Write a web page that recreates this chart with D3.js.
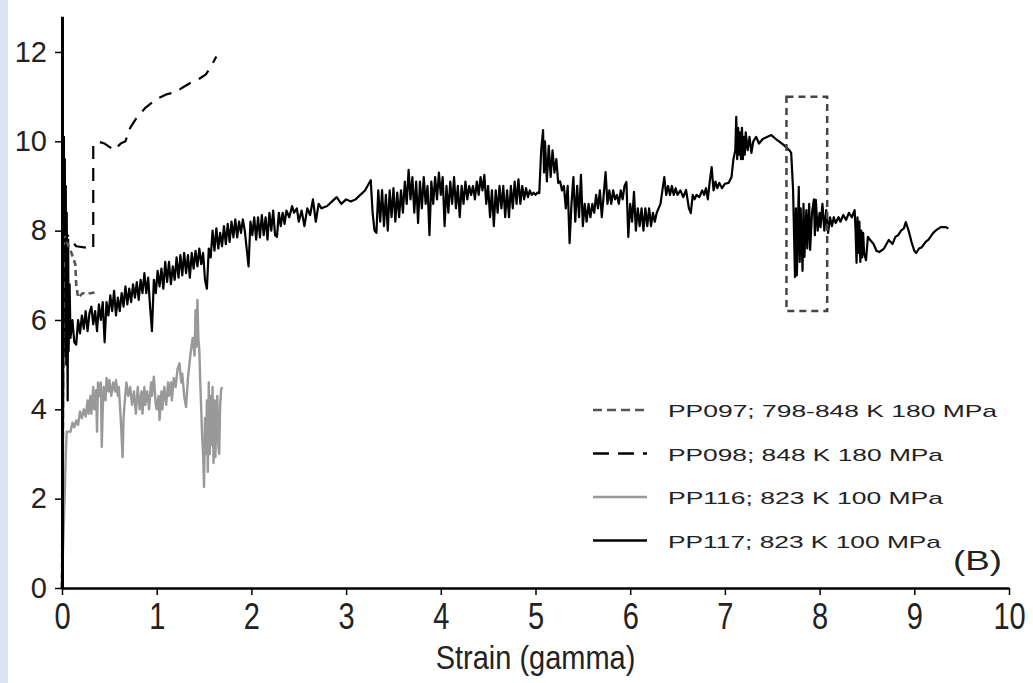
<!DOCTYPE html>
<html>
<head>
<meta charset="utf-8">
<script src="https://cdn.jsdelivr.net/npm/d3@7"></script>
<style>
  body { margin: 0; background: #fff; }
  svg { display: block; font-family: "Liberation Sans", Arial, sans-serif; }
</style>
</head>
<body>
<svg width="1033" height="683"></svg>
<script>
// values (strain gamma, stress)
const pp097 = [[0,0],[0.02,7.9],[0.1,7.5],[0.14,7.25],[0.15,6.8],[0.17,6.5],[0.22,6.6],[0.3,6.6],[0.35,6.62]];

const pp098 = [[0,0],[0.02,8.0],[0.15,7.65],[0.33,7.6],[0.33,9.9],[0.37,10.0],[0.45,9.95],[0.55,9.8],[0.62,9.95],
  [0.67,10.0],[0.72,10.3],[0.78,10.5],[0.88,10.75],[1.0,10.95],[1.1,11.05],[1.2,11.1],[1.27,11.2],[1.35,11.3],
  [1.45,11.4],[1.52,11.5],[1.58,11.7],[1.63,11.9]];

const pp116 = [[0,0],[0.01,0.8],[0.02,1.5],[0.03,2.2],[0.04,3.0],[0.05,3.5],[0.09,3.5],[0.11,3.7],[0.13,3.6],
  [0.15,3.75],[0.17,3.65],[0.19,3.95],[0.21,3.8],[0.23,4.0],[0.25,3.84],[0.27,4.2],[0.28,3.9],[0.3,4.3],[0.31,3.9],
  [0.33,4.5],[0.34,4.0],[0.36,4.43],[0.37,3.5],[0.38,4.6],[0.4,4.3],[0.41,4.6],[0.42,3.16],[0.43,4.0],[0.44,4.5],
  [0.46,4.2],[0.47,4.7],[0.49,4.4],[0.5,4.66],[0.52,4.3],[0.54,4.6],[0.56,4.4],[0.57,4.65],[0.59,4.3],[0.6,4.5],
  [0.62,3.8],[0.64,2.93],[0.65,3.8],[0.66,4.1],[0.68,4.6],[0.7,4.3],[0.72,4.5],[0.74,4.1],[0.76,4.4],[0.78,3.9],
  [0.8,4.5],[0.82,4.0],[0.84,4.4],[0.85,3.9],[0.87,4.5],[0.88,4.1],[0.9,4.4],[0.92,4.0],[0.94,4.6],[0.95,4.3],
  [0.97,4.73],[0.99,4.1],[1.0,4.0],[1.02,4.3],[1.03,3.76],[1.05,4.4],[1.06,4.0],[1.08,4.5],[1.1,4.1],[1.12,4.6],
  [1.13,4.3],[1.15,4.6],[1.16,4.2],[1.18,4.7],[1.2,4.5],[1.22,4.9],[1.24,5.03],[1.26,4.6],[1.27,4.8],[1.29,4.3],
  [1.31,4.05],[1.33,4.7],[1.34,4.9],[1.36,5.3],[1.38,5.6],[1.4,5.2],[1.41,6.22],[1.42,5.4],[1.43,6.45],[1.44,5.6],
  [1.45,5.33],[1.46,4.6],[1.47,4.0],[1.48,3.4],[1.49,3.0],[1.5,2.26],[1.51,3.8],[1.52,3.0],[1.53,4.2],[1.54,2.6],
  [1.55,4.6],[1.56,3.0],[1.57,4.3],[1.58,3.2],[1.59,4.5],[1.6,2.8],[1.61,4.2],[1.62,2.93],[1.63,4.0],[1.64,4.3],
  [1.65,3.2],[1.66,3.0],[1.67,4.1],[1.68,4.43],[1.69,4.5]];

const pp117 = [[0,0],[0.01,3.0],[0.015,7.5],[0.02,10.1],[0.025,6.0],[0.03,9.6],[0.035,5.2],[0.04,9.0],[0.045,5.0],
  [0.05,8.4],[0.06,4.2],[0.065,7.8],[0.07,5.3],[0.08,6.8],[0.09,5.6],[0.11,6.0],[0.13,5.5],[0.15,5.45],
  [0.17,6.0],[0.19,5.7],[0.21,6.1],[0.23,5.8],[0.25,6.2],[0.27,5.75],[0.29,6.15],[0.31,6.3],[0.33,5.9],[0.35,6.2],
  [0.37,5.75],[0.39,6.35],[0.41,6.0],[0.43,6.4],[0.45,5.5],[0.47,6.4],[0.49,6.1],[0.51,6.55],[0.53,6.2],[0.55,6.65],
  [0.57,6.1],[0.59,6.5],[0.61,6.2],[0.63,6.6],[0.65,6.3],[0.67,6.75],[0.69,6.35],[0.71,6.7],[0.73,6.4],[0.75,6.8],
  [0.77,6.5],[0.79,6.85],[0.81,6.45],[0.83,6.9],[0.85,6.6],[0.87,7.05],[0.89,6.6],[0.91,6.95],[0.93,6.3],[0.95,5.75],
  [0.97,6.9],[0.99,6.6],[1.01,7.1],[1.03,6.75],[1.05,7.15],[1.07,6.7],[1.09,7.3],[1.11,6.85],[1.13,7.3],[1.15,6.8],
  [1.17,7.2],[1.19,6.9],[1.21,7.4],[1.23,6.95],[1.25,7.45],[1.27,7.0],[1.29,7.5],[1.31,7.05],[1.33,7.45],[1.35,6.95],
  [1.37,7.5],[1.39,7.15],[1.41,7.55],[1.43,7.2],[1.45,7.6],[1.47,7.25],[1.49,7.5],[1.51,6.9],[1.53,6.7],[1.55,7.6],
  [1.57,7.4],[1.59,8.0],[1.61,7.55],[1.63,8.05],[1.65,7.6],[1.67,7.95],[1.69,7.65],[1.71,8.1],[1.73,7.7],[1.75,8.15],
  [1.77,7.75],[1.79,8.2],[1.81,7.85],[1.83,8.25],[1.85,7.85],[1.87,8.2],[1.89,7.95],[1.91,8.25],[1.93,8.0],[1.95,7.6],
  [1.97,7.2],[1.99,8.2],[2.01,7.9],[2.03,8.3],[2.05,7.8],[2.07,8.3],[2.09,7.85],[2.11,8.35],[2.13,7.9],[2.15,8.3],
  [2.17,7.8],[2.19,8.4],[2.21,8.0],[2.23,8.45],[2.25,7.9],[2.27,7.86],[2.29,8.4],[2.31,8.1],[2.33,8.4],[2.35,8.15],
  [2.37,8.45],[2.4,8.3],[2.43,8.55],[2.45,8.4],[2.48,8.5],[2.5,8.2],[2.53,8.45],[2.56,8.1],[2.59,8.5],[2.62,8.35],
  [2.65,8.7],[2.68,8.2],[2.71,8.6],[2.74,8.5],[2.8,8.55],[2.85,8.65],[2.9,8.75],[2.95,8.6],[3.0,8.7],[3.05,8.65],
  [3.1,8.7],[3.15,8.8],[3.2,8.9],[3.26,9.13],
  [3.28,8.4],[3.3,8.0],[3.32,7.95],[3.34,8.9],[3.36,8.2],[3.38,8.91],[3.4,8.1],[3.42,8.8],[3.44,8.0],[3.46,8.9],
  [3.48,8.3],[3.5,8.95],[3.52,8.2],[3.54,8.85],[3.56,8.3],[3.58,8.9],[3.6,8.4],[3.62,9.1],[3.64,8.6],[3.66,9.36],
  [3.68,8.7],[3.7,9.2],[3.72,8.4],[3.74,9.1],[3.76,8.17],[3.78,9.1],[3.8,8.5],[3.82,9.2],[3.84,8.6],[3.86,9.0],
  [3.88,7.9],[3.9,9.1],[3.92,8.6],[3.94,9.2],[3.96,8.7],[3.98,9.3],[4.0,8.8],[4.02,9.2],[4.04,8.1],[4.06,9.0],
  [4.08,8.4],[4.1,9.1],[4.12,8.6],[4.14,9.2],[4.16,8.5],[4.18,9.0],[4.2,8.3],[4.22,9.0],[4.24,8.6],[4.26,9.1],
  [4.28,8.7],[4.3,9.0],[4.32,8.8],[4.34,9.0],[4.36,8.7],[4.38,9.1],[4.4,8.8],[4.42,9.2],[4.44,8.9],[4.46,9.25],
  [4.48,8.6],[4.5,9.0],[4.52,8.3],[4.54,8.9],[4.56,8.1],[4.58,8.9],[4.6,8.4],[4.62,9.0],[4.64,8.5],[4.66,9.0],
  [4.68,8.3],[4.7,8.9],[4.72,8.3],[4.74,9.0],[4.76,8.5],[4.78,9.1],[4.8,8.6],[4.82,9.15],[4.84,8.6],[4.86,9.0],
  [4.88,8.7],[4.9,8.95],[4.92,8.75],[4.94,8.9],[4.96,8.8],[4.98,8.85],[5.0,8.8],[5.02,8.85],[5.04,8.84],
  [5.06,9.8],[5.08,10.25],[5.09,9.3],[5.1,10.0],[5.12,9.1],[5.14,9.9],[5.16,9.2],[5.18,9.8],[5.2,9.3],[5.22,9.6],
  [5.24,9.07],[5.26,9.1],[5.28,8.9],[5.3,9.0],[5.32,8.5],[5.34,9.0],[5.36,7.72],[5.38,8.6],[5.4,9.2],[5.42,8.2],
  [5.44,9.0],[5.46,8.3],[5.48,9.25],[5.5,8.1],[5.52,8.6],[5.54,8.2],[5.56,8.6],[5.58,8.3],[5.6,8.6],[5.62,8.4],
  [5.64,8.8],[5.66,8.5],[5.68,8.9],[5.7,8.3],[5.72,8.8],[5.74,9.31],[5.76,8.6],[5.78,8.9],[5.8,8.6],[5.82,8.9],
  [5.84,8.7],[5.86,8.8],[5.88,8.6],[5.9,8.9],[5.92,8.7],[5.94,9.0],[5.96,9.09],[5.98,7.86],[6.0,8.6],[6.02,8.2],
  [6.04,8.87],[6.06,8.0],[6.08,8.5],[6.1,8.1],[6.12,8.5],[6.14,8.0],[6.16,8.5],[6.18,8.1],[6.2,8.5],[6.22,8.1],
  [6.24,8.4],[6.26,8.2],[6.28,8.4],[6.3,8.5],[6.32,8.6],[6.34,8.9],[6.36,9.2],[6.38,8.8],[6.4,9.0],[6.42,8.8],
  [6.44,9.0],[6.46,8.8],[6.48,8.95],[6.5,8.8],[6.53,8.9],[6.56,8.75],[6.59,8.91],[6.62,8.5],[6.64,8.39],[6.66,8.8],
  [6.68,8.7],[6.7,8.8],[6.73,8.75],[6.76,8.9],[6.78,8.8],[6.8,8.95],[6.82,8.7],[6.84,9.1],[6.86,9.42],[6.88,8.9],
  [6.9,9.1],[6.92,8.95],[6.94,9.07],[6.97,8.95],[7.0,9.05],[7.04,9.07],[7.07,9.2],[7.09,9.6],[7.11,9.8],[7.12,10.55],
  [7.13,9.6],[7.14,10.3],[7.15,9.7],[7.16,10.2],[7.17,9.6],[7.18,10.3],[7.19,9.6],[7.2,10.1],[7.21,9.7],[7.22,10.2],
  [7.24,9.8],[7.26,10.1],[7.28,9.74],[7.3,10.0],[7.33,10.1],[7.36,9.95],[7.4,10.05],[7.45,10.1],[7.49,10.14],
  [7.55,10.03],[7.62,9.92],[7.68,9.8],[7.7,9.74],[7.72,8.91],[7.74,6.96],[7.75,8.5],[7.76,7.0],[7.78,8.98],[7.79,7.3],
  [7.8,8.5],[7.82,7.1],[7.83,8.6],[7.84,7.41],[7.86,8.46],[7.87,7.6],[7.89,8.6],[7.9,7.57],[7.92,8.4],[7.94,8.7],
  [7.95,7.9],[7.96,8.69],[7.98,8.0],[8.0,8.4],[8.01,8.08],[8.03,8.6],[8.05,8.0],[8.07,8.46],[8.09,7.95],[8.11,8.3],
  [8.13,8.1],[8.15,8.3],[8.17,8.17],[8.2,8.3],[8.22,8.2],[8.25,8.35],[8.28,8.24],[8.31,8.4],[8.34,8.3],[8.37,8.46],
  [8.38,8.0],[8.39,7.28],[8.4,8.3],[8.41,7.5],[8.42,8.2],[8.43,7.3],[8.44,8.0],[8.45,7.4],[8.46,7.95],[8.47,7.5],
  [8.49,7.34],[8.51,7.86],[8.53,7.8],[8.57,7.7],[8.6,7.55],[8.63,7.52],[8.68,7.6],[8.73,7.79],[8.77,7.7],[8.8,7.86],
  [8.83,7.9],[8.86,8.0],[8.89,8.05],[8.91,8.19],[8.94,8.0],[8.97,7.75],[9.0,7.55],[9.02,7.5],[9.05,7.6],[9.08,7.63],
  [9.12,7.75],[9.15,7.8],[9.2,7.95],[9.23,8.01],[9.28,8.08],[9.33,8.08],[9.36,8.05]];

const boxX = [7.65, 8.08];
const boxY = [6.2, 11.0];

const legendLabels = ["PP097; 798-848 K 180 MPa", "PP098; 848 K 180 MPa", "PP116; 823 K 100 MPa", "PP117; 823 K 100 MPa"];
const xTicks = [0,1,2,3,4,5,6,7,8,9,10];
const yTicks = [0,2,4,6,8,10,12];

const svg = d3.select("svg");

// light blue strip on the left edge of the figure
svg.append("rect").attr("x", 0).attr("y", 0).attr("width", 8).attr("height", 683).attr("fill", "#dbe4f4");

const x = d3.scaleLinear().domain([0, 10]).range([62, 1009]);
const y = d3.scaleLinear().domain([0, 12.8]).range([588, 588 - 12.8 * 44.67]);

const line = d3.line().x(d => x(d[0])).y(d => y(d[1]));

// drawing order: grey first, then black ones on top; legend order follows legendLabels
const series = [
  { name: legendLabels[2], data: pp116, color: "#999", width: 2.4, dash: null, legendDash: null },
  { name: legendLabels[3], data: pp117, color: "#000", width: 2.2, dash: null, legendDash: null },
  { name: legendLabels[0], data: pp097, color: "#555", width: 2.6, dash: "6,4", legendDash: "9,5" },
  { name: legendLabels[1], data: pp098, color: "#000", width: 2.2, dash: "13,9", legendDash: "16,9" }
];

svg.selectAll(".series")
  .data(series)
  .enter().append("path")
  .attr("class", "series")
  .attr("d", d => line(d.data))
  .attr("fill", "none")
  .attr("stroke", d => d.color)
  .attr("stroke-width", d => d.width)
  .attr("stroke-linejoin", "round")
  .attr("stroke-dasharray", d => d.dash);

// dashed box around the drop
svg.append("rect")
  .attr("x", x(boxX[0]))
  .attr("y", y(boxY[1]))
  .attr("width", x(boxX[1]) - x(boxX[0]))
  .attr("height", y(boxY[0]) - y(boxY[1]))
  .attr("fill", "none")
  .attr("stroke", "#444")
  .attr("stroke-width", 2.5)
  .attr("stroke-dasharray", "7,5");

// axes
const xAxis = svg.append("g")
  .attr("transform", `translate(0, ${y(0)})`)
  .call(d3.axisBottom(x).tickValues(xTicks).tickFormat(d3.format("d")).tickSize(7).tickSizeOuter(0).tickPadding(8));
xAxis.select(".domain").attr("stroke-width", 2.5);
xAxis.selectAll(".tick line").attr("stroke-width", 1.5);
// labels in the reference are drawn taller than wide
xAxis.selectAll(".tick text")
  .attr("font-size", 29).attr("fill", "#222")
  .attr("font-family", "Liberation Sans, Arial")
  .attr("y", 0).attr("dy", null)
  .attr("transform", "translate(0, 41) scale(1, 1.28)");

const yAxis = svg.append("g")
  .attr("transform", `translate(${x(0)}, 0)`)
  .call(d3.axisLeft(y).tickValues(yTicks).tickFormat(d3.format("d")).tickSize(7).tickSizeOuter(0).tickPadding(8));
yAxis.select(".domain").attr("stroke-width", 3);
yAxis.selectAll(".tick line").attr("stroke-width", 1.5);
yAxis.selectAll(".tick text").attr("font-size", 29).attr("fill", "#222").attr("font-family", "Liberation Sans, Arial");

svg.append("text")
  .attr("transform", `translate(${x(5)}, 669) scale(1, 1.12)`)
  .attr("text-anchor", "middle")
  .attr("font-size", 29)
  .attr("fill", "#222")
  .text("Strain (gamma)");

// legend
const legendWidths = [329, 275, 275, 273];
const legendRows = legendLabels.map(name => series.find(s => s.name === name));

const legend = svg.selectAll(".legend")
  .data(legendRows)
  .enter().append("g")
  .attr("class", "legend")
  .attr("transform", (d, i) => `translate(0, ${410 + i * 43.5})`);

legend.append("line")
  .attr("x1", 593).attr("x2", 647)
  .attr("stroke", d => d.color)
  .attr("stroke-width", 2.4)
  .attr("stroke-dasharray", d => d.legendDash);

legend.append("text")
  .attr("x", 668).attr("y", 7)
  .attr("font-size", 17)
  .attr("fill", "#222")
  .attr("textLength", (d, i) => legendWidths[i])
  .attr("lengthAdjust", "spacingAndGlyphs")
  .text(d => d.name);

svg.append("text")
  .attr("x", 953).attr("y", 570)
  .attr("font-size", 28)
  .attr("fill", "#222")
  .attr("textLength", 49)
  .attr("lengthAdjust", "spacingAndGlyphs")
  .text("(B)");
</script>
</body>
</html>
